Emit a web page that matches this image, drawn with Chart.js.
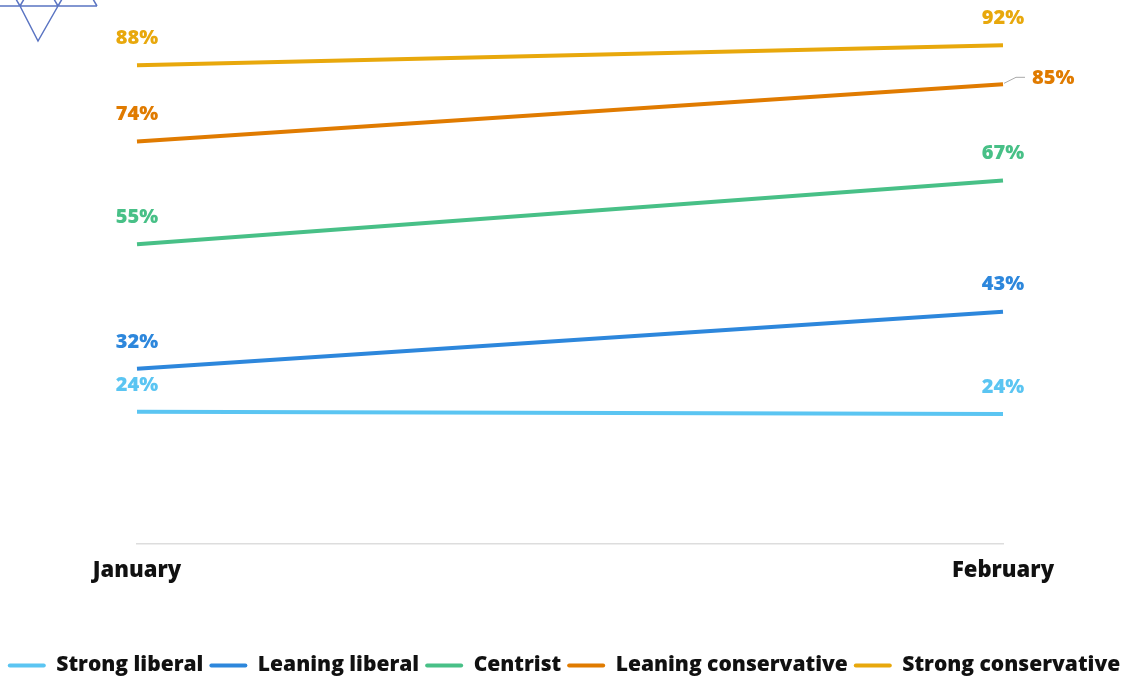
<!DOCTYPE html>
<html>
<head>
<meta charset="utf-8">
<script src="https://cdn.jsdelivr.net/npm/chart.js@4.4.0/dist/chart.umd.min.js"></script>
<style>
  html, body { margin: 0; padding: 0; background: #fff; }
  #wrap { width: 1128px; height: 678px; }
</style>
</head>
<body>
<div id="wrap"><canvas id="chart"></canvas></div>
<script>
// months on the x axis
const months = ["January", "February"];

// share per group (%)
const strongLiberal = [24.3, 23.9];
const leaningLiberal = [32.2, 42.7];
const centrist = [55.1, 66.8];
const leaningConservative = [74.0, 84.5];
const strongConservative = [88.0, 91.7];

const seriesNames = ["Strong liberal", "Leaning liberal", "Centrist", "Leaning conservative", "Strong conservative"];
const seriesColors = ["#5BC5F2", "#2D87DC", "#48C087", "#E07B00", "#E8A80C"];

const FONT = "'Open Sans', 'Noto Sans', sans-serif";

// value labels above the line ends (the one Feb conservative label sits to the right)
const valueLabels = {
  id: "valueLabels",
  afterDatasetsDraw(chart) {
    const ctx = chart.ctx;
    ctx.save();
    ctx.font = "800 20px " + FONT;
    ctx.textBaseline = "middle";
    chart.data.datasets.forEach((ds, i) => {
      const meta = chart.getDatasetMeta(i);
      meta.data.forEach((pt, j) => {
        const txt = Math.round(ds.data[j]) + "%";
        ctx.fillStyle = ds.borderColor;
        if (i === 3 && j === meta.data.length - 1) {
          ctx.strokeStyle = "#aaaaaa";
          ctx.lineWidth = 1;
          ctx.beginPath();
          ctx.moveTo(pt.x + 1, pt.y - 1);
          ctx.lineTo(pt.x + 13, pt.y - 7);
          ctx.lineTo(pt.x + 22, pt.y - 7);
          ctx.stroke();
          ctx.textAlign = "left";
          ctx.fillText(txt, pt.x + 29, pt.y - 6);
        } else {
          ctx.textAlign = "center";
          ctx.fillText(txt, pt.x, pt.y - 27);
        }
      });
    });
    ctx.restore();
  }
};

// partial logo in the top left corner
const cornerLogo = {
  id: "cornerLogo",
  beforeDraw(chart) {
    const ctx = chart.ctx;
    ctx.save();
    ctx.strokeStyle = "#5A74C2";
    ctx.lineWidth = 1.5;
    ctx.beginPath();
    ctx.moveTo(0, 6); ctx.lineTo(97, 6);
    ctx.moveTo(20, 6); ctx.lineTo(38, 41); ctx.lineTo(58, 6);
    ctx.moveTo(20, 6); ctx.lineTo(13, -6);
    ctx.moveTo(20, 6); ctx.lineTo(27, -6);
    ctx.moveTo(58, 6); ctx.lineTo(51, -6);
    ctx.moveTo(58, 6); ctx.lineTo(65, -6);
    ctx.moveTo(97, 6); ctx.lineTo(90, -6);
    ctx.stroke();
    ctx.restore();
  }
};

const allSeries = [strongLiberal, leaningLiberal, centrist, leaningConservative, strongConservative];

new Chart(document.getElementById("chart"), {
  type: "line",
  data: {
    labels: months,
    datasets: allSeries.map((vals, i) => ({
      label: seriesNames[i],
      data: vals,
      borderColor: seriesColors[i],
      backgroundColor: seriesColors[i],
      borderWidth: 4,
      pointRadius: 0,
      tension: 0
    }))
  },
  options: {
    responsive: true,
    maintainAspectRatio: false,
    animation: false,
    layout: { padding: { top: 0, bottom: -8, left: 0, right: 0 } },
    plugins: {
      tooltip: { enabled: false },
      legend: {
        position: "bottom",
        labels: {
          font: { family: FONT, size: 21, weight: "800" },
          color: "#111111",
          boxWidth: 38,
          boxHeight: 4,
          padding: 6,
          generateLabels(chart) {
            return chart.data.datasets.map((ds, i) => ({
              text: ds.label,
              fillStyle: ds.borderColor,
              strokeStyle: ds.borderColor,
              lineWidth: 0,
              borderRadius: 2,
              fontColor: "#111111",
              datasetIndex: i,
              hidden: false
            }));
          }
        }
      }
    },
    scales: {
      x: {
        grid: { display: false, drawTicks: false },
        border: { display: true, color: "#dddddd", width: 1.5 },
        ticks: {
          font: { family: FONT, size: 22, weight: "800" },
          color: "#111111",
          padding: 14,
          maxRotation: 0
        },
        afterFit(scale) { scale.height = 105; }
      },
      y: {
        min: 0,
        max: 100,
        grid: { display: false },
        border: { display: false },
        ticks: { display: false },
        afterFit(scale) { scale.width = 137; }
      },
      y2: {
        position: "right",
        min: 0,
        max: 100,
        grid: { display: false },
        border: { display: false },
        ticks: { display: false },
        afterFit(scale) { scale.width = 125; }
      }
    }
  },
  plugins: [valueLabels, cornerLogo]
});
</script>
</body>
</html>
